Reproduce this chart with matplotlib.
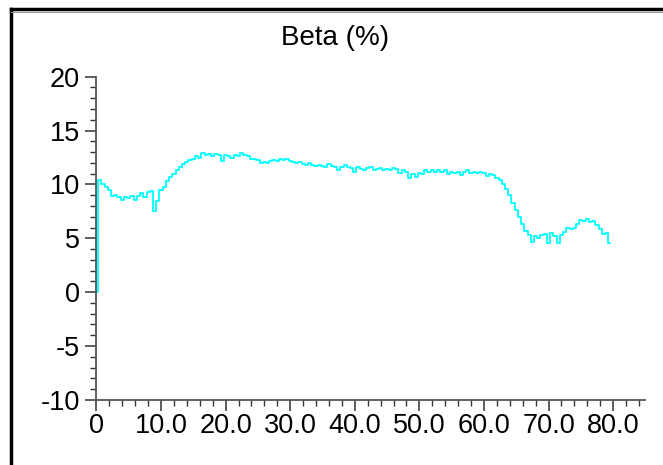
import numpy as np
import matplotlib
matplotlib.use('Agg')
import matplotlib.pyplot as plt
from matplotlib.lines import Line2D
from matplotlib.ticker import MultipleLocator, FixedLocator

plt.rcParams['font.family'] = ['Liberation Sans', 'DejaVu Sans']

# beta (%), one value every 0.5 on the x axis
beta = [0.0, 10.4, 10.0, 9.8, 9.5, 8.9, 9.0, 8.8, 8.6, 8.8,
        8.7, 8.9, 8.6, 8.9, 9.2, 8.8, 9.3, 9.4, 7.5, 8.5,
        9.5, 9.8, 10.3, 10.7, 11.0, 11.3, 11.6, 11.9, 12.1, 12.3,
        12.4, 12.6, 12.5, 12.9, 12.7, 12.8, 12.6, 12.8, 12.7, 12.2,
        12.7, 12.6, 12.5, 12.7, 12.6, 12.9, 12.7, 12.6, 12.4, 12.4,
        12.3, 12.0, 12.1, 12.0, 12.2, 12.3, 12.2, 12.4, 12.3, 12.4,
        12.2, 12.1, 12.0, 12.1, 11.9, 11.8, 12.0, 11.8, 11.7, 11.8,
        11.7, 11.6, 11.9, 11.7, 11.6, 11.3, 11.6, 11.8, 11.6, 11.5,
        11.2, 11.6, 11.4, 11.3, 11.5, 11.6, 11.3, 11.4, 11.5, 11.3,
        11.4, 11.3, 11.5, 11.4, 11.1, 11.3, 11.2, 10.6, 11.0, 10.7,
        11.1, 11.0, 11.3, 11.2, 11.3, 11.2, 11.3, 11.2, 11.3, 11.0,
        11.2, 11.1, 11.2, 10.9, 11.2, 11.3, 11.1, 11.2, 11.1, 11.2,
        11.1, 10.8, 11.0, 10.9, 10.6, 10.4, 10.0, 9.6, 9.0, 8.3,
        7.6, 7.0, 6.3, 5.7, 5.3, 4.7, 5.2, 5.0, 5.3, 5.4,
        4.6, 5.5, 5.2, 4.6, 5.3, 5.6, 6.0, 5.9, 6.0, 6.3,
        6.7, 6.6, 6.8, 6.5, 6.6, 6.2, 5.9, 5.4, 5.5, 4.6]
t = np.arange(len(beta)) * 0.5

xticks = [0, 10, 20, 30, 40, 50, 60, 70, 80]
xlabels = ['0', '10.0', '20.0', '30.0', '40.0', '50.0', '60.0', '70.0', '80.0']
yticks = [-10, -5, 0, 5, 10, 15, 20]
ylabels = ['-10', '-5', '0', '5', '10', '15', '20']

fig = plt.figure(figsize=(6.63, 4.65), dpi=100)
ax = fig.add_axes([0.1455, 0.14, 0.828, 0.695])

ax.plot(t, beta, color='#00ffff', lw=1.3, drawstyle='steps-mid')

ax.set_xlim(0, 85)
ax.set_ylim(-10, 20)
ax.xaxis.set_major_locator(FixedLocator(xticks))
ax.set_xticklabels(xlabels)
ax.xaxis.set_minor_locator(MultipleLocator(2))
ax.yaxis.set_major_locator(FixedLocator(yticks))
ax.set_yticklabels(ylabels)
ax.yaxis.set_minor_locator(MultipleLocator(1))

for s in ['top', 'right']:
    ax.spines[s].set_visible(False)
for s in ['left', 'bottom']:
    ax.spines[s].set_color('#555555')
    ax.spines[s].set_linewidth(1.3)

ax.tick_params(which='major', length=7.7, width=1.1, color='#333333',
               labelsize=19.5)
ax.tick_params(axis='y', which='major', pad=4)
ax.tick_params(axis='x', which='major', pad=2)
ax.tick_params(which='minor', length=4, width=1.0, color='#333333')

fig.text(0.505, 0.918, 'Beta (%)', ha='center', va='center', fontsize=20)

# frame that runs off the right and bottom of the picture
fig.add_artist(Line2D([0.0166, 0.0166], [0.981, 0.0], color='black', lw=2.5))
fig.add_artist(Line2D([0.0166, 1.0], [0.981, 0.981], color='black', lw=2.5))
fig.add_artist(Line2D([0.0166, 1.0], [0.975, 0.975], color='#999999', lw=0.8))

plt.savefig('out.png', dpi=100)
